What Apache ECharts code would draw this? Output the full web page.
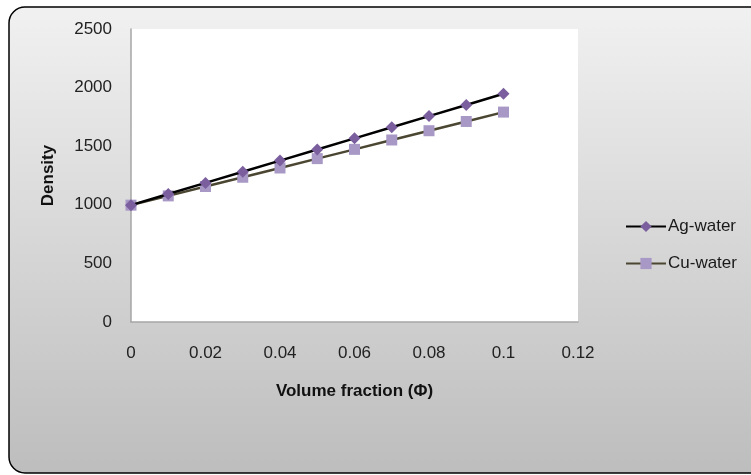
<!DOCTYPE html>
<html>
<head>
<meta charset="utf-8">
<script src="https://cdn.jsdelivr.net/npm/echarts@6/dist/echarts.min.js"></script>
<style>
html,body{margin:0;padding:0;background:#fff;}
#chart{width:751px;height:475px;}
</style>
</head>
<body>
<div id="chart"></div>
<script>
const phi = [0, 0.01, 0.02, 0.03, 0.04, 0.05, 0.06, 0.07, 0.08, 0.09, 0.1];
const agWater = [997, 1092, 1187, 1282, 1377, 1472, 1567, 1662, 1757, 1852, 1947];
const cuWater = [997, 1076, 1156, 1235, 1314, 1394, 1473, 1553, 1632, 1711, 1791];
const seriesNames = ['Ag-water', 'Cu-water'];
const xTitle = 'Volume fraction (Φ)';
const yTitle = 'Density';

const FONT = 'Liberation Sans';
const chart = echarts.init(document.getElementById('chart'), null, {renderer: 'canvas'});
chart.setOption({
  animation: false,
  backgroundColor: '#ffffff',
  textStyle: {fontFamily: FONT},
  graphic: [{
    type: 'rect', z: -100, silent: true,
    shape: {x: 9, y: 7, width: 780, height: 466, r: 16},
    style: {
      fill: new echarts.graphic.LinearGradient(0, 0, 0, 1, [
        {offset: 0, color: '#f1f1f1'}, {offset: 1, color: '#bdbdbd'}
      ]),
      stroke: '#000', lineWidth: 1.5
    }
  }],
  grid: {left: 131, right: 173, top: 29, bottom: 153, show: true, backgroundColor: '#ffffff', borderWidth: 0},
  legend: {
    orient: 'vertical', left: 620, top: 213, itemWidth: 40, itemHeight: 14, itemGap: 20,
    data: seriesNames,
    textStyle: {fontFamily: FONT, fontSize: 17, color: '#1a1a1a', padding: [0,0,0,-3]}
  },
  xAxis: {
    type: 'value', min: 0, max: 0.12, interval: 0.02,
    name: xTitle, nameLocation: 'middle', nameGap: 61,
    nameTextStyle: {fontFamily: FONT, fontSize: 17, fontWeight: 'bold', color: '#111'},
    axisLine: {show: true, lineStyle: {color: '#a6a6a6', width: 1.5}},
    axisTick: {show: false},
    splitLine: {show: false},
    axisLabel: {margin: 23, fontSize: 17, color: '#222', fontFamily: FONT,
      formatter: v => String(+v.toFixed(2))}
  },
  yAxis: {
    type: 'value', min: 0, max: 2500, interval: 500,
    name: yTitle, nameLocation: 'middle', nameGap: 74, nameRotate: 90,
    nameTextStyle: {fontFamily: FONT, fontSize: 17, fontWeight: 'bold', color: '#111'},
    axisLine: {show: true, lineStyle: {color: '#a6a6a6', width: 1.5}},
    axisTick: {show: false},
    splitLine: {show: false},
    axisLabel: {margin: 19, fontSize: 17, color: '#222', fontFamily: FONT,
      formatter: v => String(v)}
  },
  series: [
    {
      name: seriesNames[0], type: 'line',
      data: phi.map((x, i) => [x, agWater[i]]),
      symbol: 'diamond', symbolSize: 12,
      lineStyle: {color: '#000000', width: 2.5},
      itemStyle: {color: '#7a5e9e'},
      z: 3
    },
    {
      name: seriesNames[1], type: 'line',
      data: phi.map((x, i) => [x, cuWater[i]]),
      symbol: 'rect', symbolSize: 11,
      lineStyle: {color: '#4b4631', width: 2.5},
      itemStyle: {color: '#a898c6'},
      z: 2
    }
  ]
});
</script>
</body>
</html>
